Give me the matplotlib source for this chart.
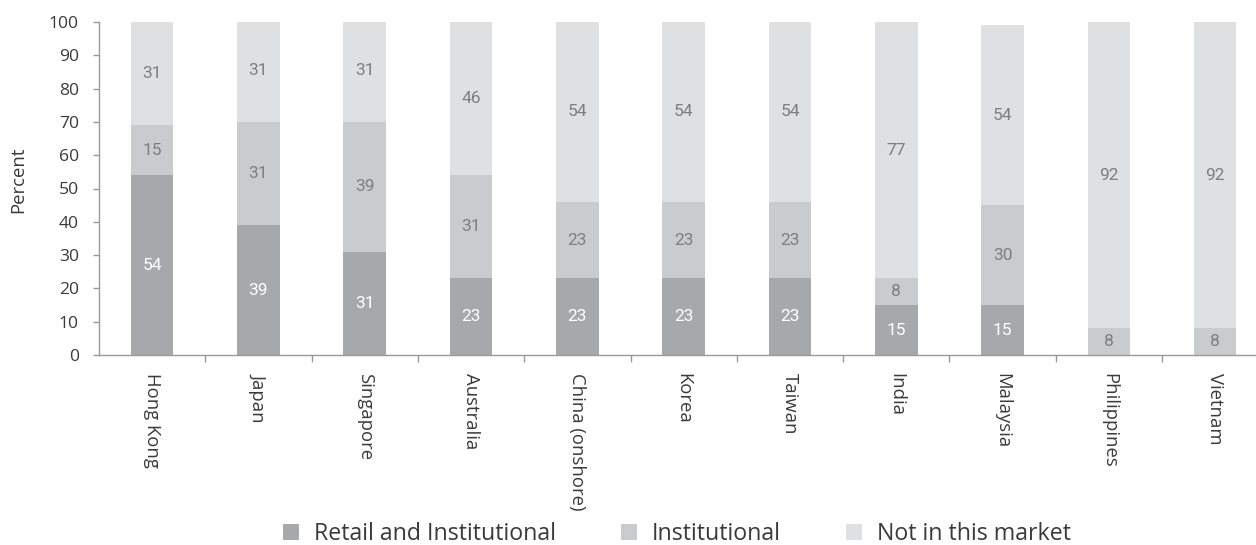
import matplotlib
matplotlib.use("Agg")
import matplotlib.pyplot as plt
from matplotlib.patches import Patch
from matplotlib import font_manager
import numpy as np

markets = ["Hong Kong", "Japan", "Singapore", "Australia", "China (onshore)",
           "Korea", "Taiwan", "India", "Malaysia", "Philippines", "Vietnam"]
retail_and_institutional = [54, 39, 31, 23, 23, 23, 23, 15, 15, 0, 0]
institutional = [15, 31, 39, 31, 23, 23, 23, 8, 30, 8, 8]
not_in_market = [31, 31, 31, 46, 54, 54, 54, 77, 54, 92, 92]
series_names = ["Retail and Institutional", "Institutional", "Not in this market"]
y_ticks = [0, 10, 20, 30, 40, 50, 60, 70, 80, 90, 100]

colors = ["#a7a8ac", "#cacbce", "#dfe0e2"]
label_colors = ["white", "#7d7e81", "#7d7e81"]
text_color = "#3a3a3c"
axis_color = "#9a9a9a"

plt.rcParams["font.family"] = ["Open Sans", "DejaVu Sans"]

names = {f.name for f in font_manager.fontManager.ttflist}
narrow = "Liberation Sans Narrow" if "Liberation Sans Narrow" in names else "Roboto"

DPI = 100
W, H = 1256, 545
fig = plt.figure(figsize=(W / DPI, H / DPI), dpi=DPI)
left, right, top, bottom = 99, 1256, 22, 355
ax = fig.add_axes([left / W, 1 - bottom / H, (right - left) / W, (bottom - top) / H])
renderer = fig.canvas.get_renderer()


def text_width(s, size, **kw):
    t = fig.text(0, 0, s, fontsize=size, **kw)
    w = t.get_window_extent(renderer).width
    t.remove()
    return w


x = np.arange(len(markets))
bar_w = 0.4
bottoms = np.zeros(len(markets))
for vals, col, lc in zip([retail_and_institutional, institutional, not_in_market],
                         colors, label_colors):
    vals = np.array(vals, dtype=float)
    ax.bar(x, vals, bar_w, bottom=bottoms, color=col, edgecolor="none", zorder=2)
    for xi, b, v in zip(x, bottoms, vals):
        if v > 0:
            ax.text(xi, b + v / 2, f"{int(v)}", ha="center", va="center",
                    color=lc, fontsize=12.5, family=[narrow, "DejaVu Sans"], zorder=3)
    bottoms += vals

ax.set_xlim(-0.5, -0.5 + (right - left) / 106.3)
ax.set_ylim(0, 100)

# tick label sizes scaled to the intended text widths
ytick_size = 12 * 30 / text_width("100", 12)
xtick_size = 12 * 95 / text_width("Hong Kong", 12)

ax.set_yticks(y_ticks)
ax.set_yticklabels([str(t) for t in y_ticks], fontsize=ytick_size, color=text_color)
ax.tick_params(axis="y", direction="out", length=4, width=1, color=axis_color, pad=10.5)

ax.set_xticks(x)
ax.set_xticklabels(markets, rotation=-90, fontsize=xtick_size, color=text_color, va="top")
ax.tick_params(axis="x", length=0, pad=13)
ax.set_xticks(np.arange(len(markets) - 1) + 0.5, minor=True)
ax.tick_params(axis="x", which="minor", direction="out", length=5, width=1, color=axis_color)

for s in ["top", "right"]:
    ax.spines[s].set_visible(False)
for s in ["left", "bottom"]:
    ax.spines[s].set_color(axis_color)
    ax.spines[s].set_linewidth(1)

ylabel_size = 12 * 66 / text_width("Percent", 12)
fig.text(18 / W, 1 - 180 / H, "Percent", rotation=90, ha="center", va="center",
         fontsize=ylabel_size, color=text_color)

# legend: font sized so the first entry is ~243 px wide; spacing in font units
leg_size = 15 * 243 / text_width(series_names[0], 15)
em = leg_size * DPI / 72
handles = [Patch(facecolor=c, edgecolor="none") for c in colors]
leg = fig.legend(handles, series_names, loc="center left",
                 bbox_to_anchor=(283 / W, 1 - 534 / H),
                 ncol=3, frameon=False, fontsize=leg_size, labelcolor=text_color,
                 handlelength=16 / em, handleheight=16 / em, handletextpad=15 / em,
                 columnspacing=65 / em, borderpad=0, borderaxespad=0)

# nudge the legend so the first swatch starts where intended
fig.canvas.draw()
sw = leg.legend_handles[0].get_window_extent(renderer)
dx = (283 - sw.x0) / W
leg.set_bbox_to_anchor((283 / W + dx, 1 - 534 / H), transform=fig.transFigure)

fig.savefig("out.png", dpi=DPI)
